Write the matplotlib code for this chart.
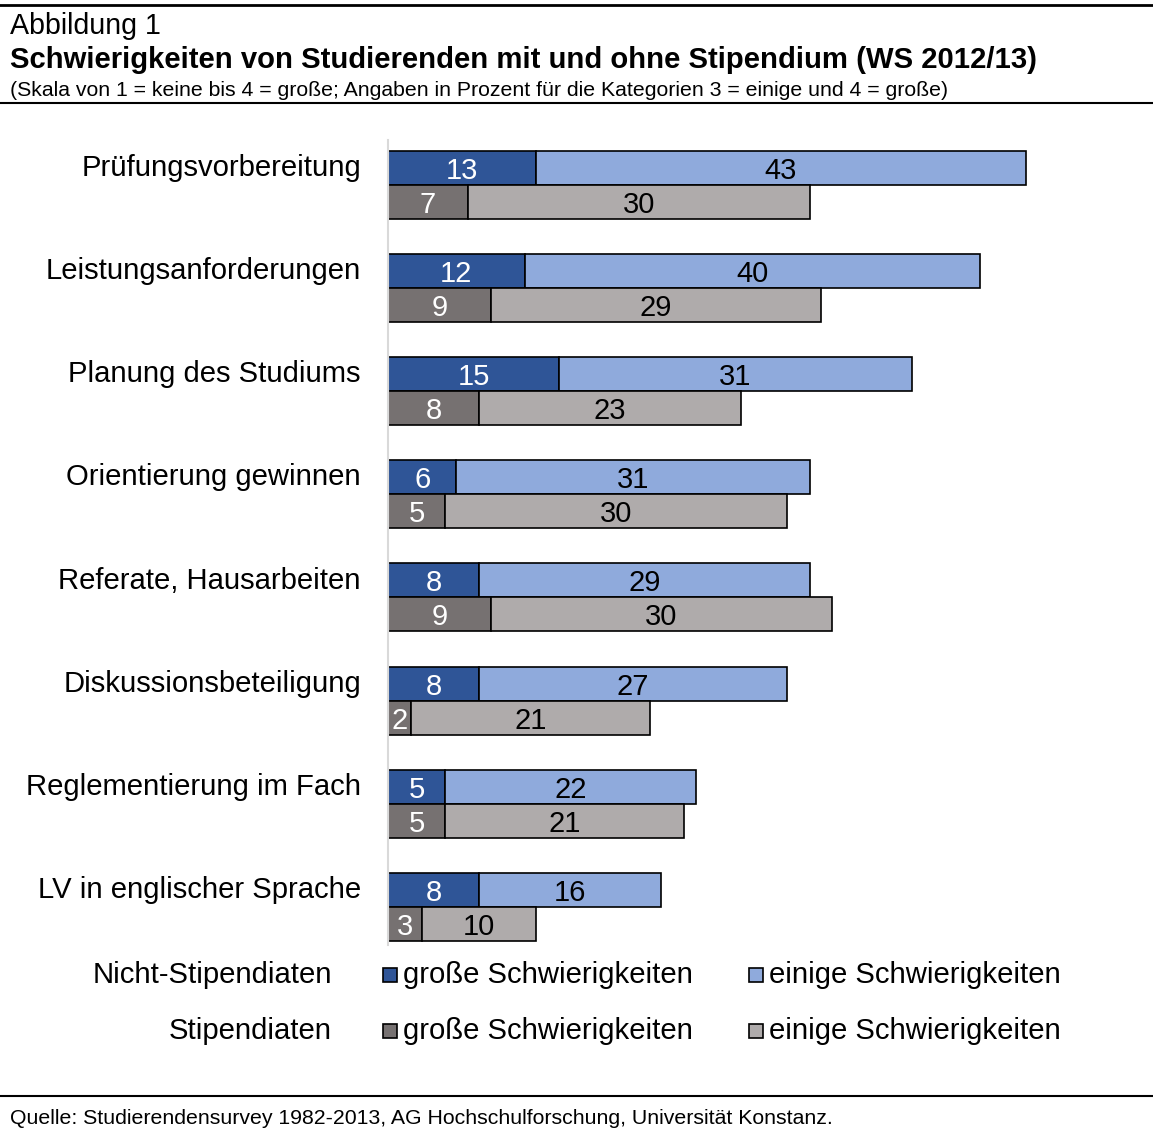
import matplotlib.pyplot as plt
import numpy as np

plt.rcParams['font.family'] = ['Liberation Sans', 'DejaVu Sans']

categories = ["Prüfungsvorbereitung", "Leistungsanforderungen", "Planung des Studiums",
              "Orientierung gewinnen", "Referate, Hausarbeiten", "Diskussionsbeteiligung",
              "Reglementierung im Fach", "LV in englischer Sprache"]
nicht_gross = [13, 12, 15, 6, 8, 8, 5, 8]
nicht_einige = [43, 40, 31, 31, 29, 27, 22, 16]
stip_gross = [7, 9, 8, 5, 9, 2, 5, 3]
stip_einige = [30, 29, 23, 30, 30, 21, 21, 10]

C_DB = "#2F5597"
C_LB = "#8FAADC"
C_DG = "#767171"
C_LG = "#AFABAB"

W, H = 1153, 1128
fig = plt.figure(figsize=(W / 100, H / 100), dpi=100)

def fx(px):
    return px / W

def fy(py):
    return 1 - py / H

# header / footer
fig.add_artist(plt.Line2D([0, 1], [fy(5), fy(5)], color="black", lw=2))
fig.add_artist(plt.Line2D([0, 1], [fy(103), fy(103)], color="black", lw=1.5))
fig.add_artist(plt.Line2D([0, 1], [fy(1096), fy(1096)], color="black", lw=1.5))
fig.text(fx(10), fy(26), "Abbildung 1", fontsize=20.6, va="center", ha="left")
fig.text(fx(10), fy(60), "Schwierigkeiten von Studierenden mit und ohne Stipendium (WS 2012/13)",
         fontsize=21.1, fontweight="bold", va="center", ha="left")
fig.text(fx(10), fy(90), "(Skala von 1 = keine bis 4 = große; Angaben in Prozent für die Kategorien 3 = einige und 4 = große)",
         fontsize=15.3, va="center", ha="left")
fig.text(fx(10), fy(1118), "Quelle: Studierendensurvey 1982-2013, AG Hochschulforschung, Universität Konstanz.",
         fontsize=15.3, va="center", ha="left")

# bar axes
px_per_unit = 638 / 56
ax = fig.add_axes([fx(388), fy(945), 1 - fx(388), (945 - 140) / H])
ax.set_xlim(0, (W - 388) / px_per_unit)
ax.set_ylim(7.37, -0.436)
for s in ["top", "right", "bottom"]:
    ax.spines[s].set_visible(False)
ax.spines["left"].set_color("#D9D9D9")
ax.spines["left"].set_linewidth(1.5)
ax.set_xticks([])
ax.set_yticks([])

y = np.arange(len(categories))
h = 0.33
yt = y - h / 2
yb = y + h / 2
kw = dict(height=h, edgecolor="black", linewidth=1.2)
bars = [
    ax.barh(yt, nicht_gross, color=C_DB, **kw),
    ax.barh(yt, nicht_einige, left=nicht_gross, color=C_LB, **kw),
    ax.barh(yb, stip_gross, color=C_DG, **kw),
    ax.barh(yb, stip_einige, left=stip_gross, color=C_LG, **kw),
]
txtcol = ["white", "black", "white", "black"]
for bc, col in zip(bars, txtcol):
    labels = ax.bar_label(bc, label_type="center", color=col, fontsize=21)
    for t in labels:
        t.set_y(t.get_position()[1])
        t.set_va("center_baseline")

for i, cat in enumerate(categories):
    fig.text(fx(361), fy(168 + 103.14 * i), cat, fontsize=21.1, ha="right", va="center")

# legend
rows = [("Nicht-Stipendiaten", C_DB, C_LB, 975), ("Stipendiaten", C_DG, C_LG, 1031)]
for label, c1, c2, py in rows:
    fig.text(fx(332), fy(py), label, fontsize=21.1, ha="right", va="center")
    for c, sx in [(c1, 383), (c2, 749)]:
        fig.add_artist(plt.Rectangle((fx(sx), fy(py + 7)), 14 / W, 14 / H,
                                     facecolor=c, edgecolor="black", lw=1.2))
        fig.text(fx(sx + 20), fy(py), "große Schwierigkeiten" if sx == 383 else "einige Schwierigkeiten",
                 fontsize=21.1, ha="left", va="center")

fig.savefig("out.png", dpi=100)
